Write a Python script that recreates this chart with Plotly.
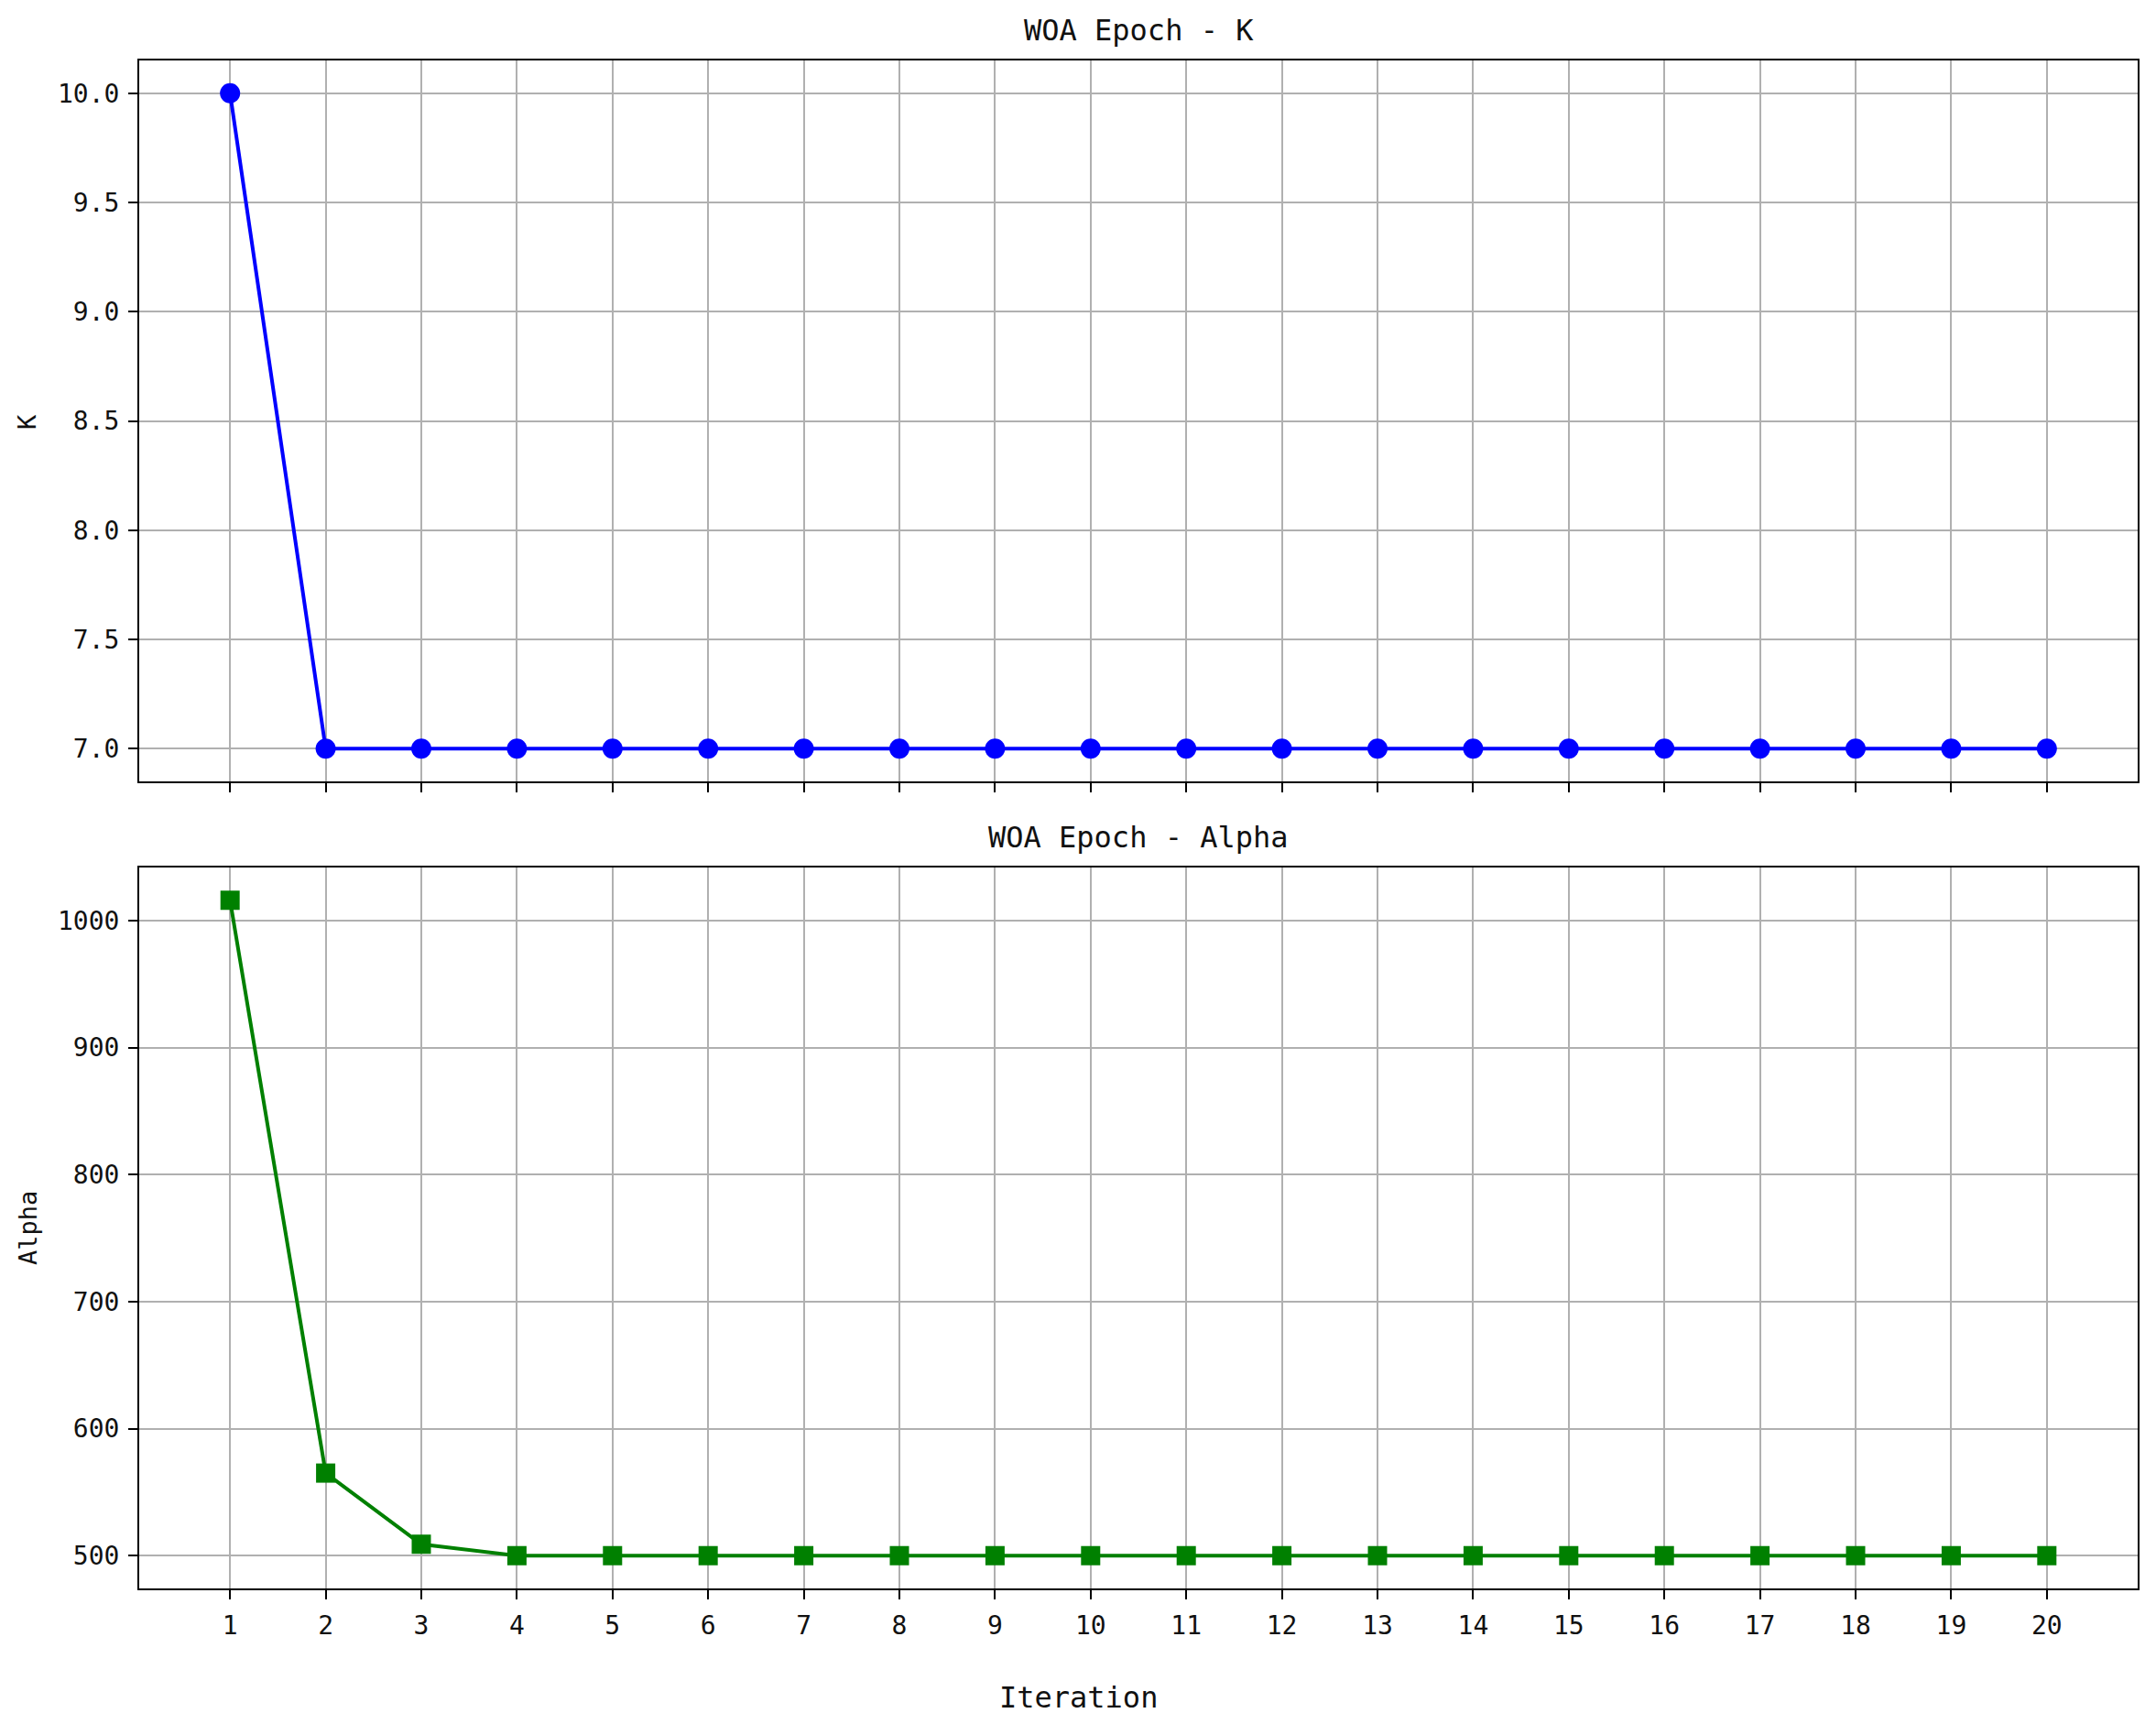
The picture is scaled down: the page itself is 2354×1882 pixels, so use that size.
import plotly.graph_objects as go

iterations = list(range(1, 21))
k_values = [10, 7, 7, 7, 7, 7, 7, 7, 7, 7, 7, 7, 7, 7, 7, 7, 7, 7, 7, 7]
alpha_values = [1016, 565, 509, 500, 500, 500, 500, 500, 500, 500,
                500, 500, 500, 500, 500, 500, 500, 500, 500, 500]
k_ticks = [7.0, 7.5, 8.0, 8.5, 9.0, 9.5, 10.0]
k_ticktext = ["7.0", "7.5", "8.0", "8.5", "9.0", "9.5", "10.0"]
alpha_ticks = [500, 600, 700, 800, 900, 1000]

W, H = 2354, 1882
OFF = 8  # page body margin
L, R, T, B = 152, 2334, 66, 1734
top_bottom_px, bot_top_px = 853, 947
ph = B - T

def py(px):
    return (B - px) / ph

def pxx(px):
    return (px - L) / (R - L)

FONT = "DejaVu Sans Mono"

fig = go.Figure()
fig.add_trace(go.Scatter(x=iterations, y=k_values, mode="lines+markers",
                         line=dict(color="#0000ff", width=4),
                         marker=dict(symbol="circle", size=22, color="#0000ff"),
                         xaxis="x", yaxis="y", showlegend=False))
fig.add_trace(go.Scatter(x=iterations, y=alpha_values, mode="lines+markers",
                         line=dict(color="#008000", width=4),
                         marker=dict(symbol="square", size=21, color="#008000"),
                         xaxis="x2", yaxis="y2", showlegend=False))

def lo_hi(vals, m=0.05):
    a, b = min(vals), max(vals)
    d = (b - a) * m
    return [a - d, b + d]

common_axis = dict(showline=True, linecolor="black", linewidth=2, mirror=True,
                   showgrid=True, gridcolor="#b0b0b0", gridwidth=2,
                   ticks="outside", ticklen=10, tickwidth=2, tickcolor="black",
                   ticklabelstandoff=4,
                   zeroline=False, tickfont=dict(family=FONT, size=28, color="#111"))

xr = lo_hi(iterations)
fig.update_layout(
    width=W, height=H,
    margin=dict(l=L - OFF, r=W - R + OFF, t=T - OFF, b=H - B + OFF),
    plot_bgcolor="white", paper_bgcolor="white",
    font=dict(family=FONT, color="#111"),
    xaxis=dict(domain=[0, 1], anchor="y", range=xr, tickvals=iterations,
               showticklabels=False, **common_axis),
    yaxis=dict(domain=[py(top_bottom_px), 1], anchor="x", range=lo_hi(k_values),
               tickvals=k_ticks, ticktext=k_ticktext, **common_axis),
    xaxis2=dict(domain=[0, 1], anchor="y2", range=xr, tickvals=iterations,
                **common_axis),
    yaxis2=dict(domain=[0, py(bot_top_px)], anchor="x2", range=lo_hi(alpha_values),
                tickvals=alpha_ticks, **common_axis),
)

ann = [
    dict(text="WOA Epoch - K", x=0.5, y=py(33), size=32),
    dict(text="WOA Epoch - Alpha", x=0.5, y=py(914), size=32),
    dict(text="Iteration", x=pxx(1177), y=py(1853), size=32),
]
for a in ann:
    fig.add_annotation(text=a["text"], x=a["x"], y=a["y"], xref="paper", yref="paper",
                       xanchor="center", yanchor="middle", showarrow=False,
                       font=dict(family=FONT, size=a["size"], color="#111"))
for text, yc in [("K", 461), ("Alpha", 1341)]:
    fig.add_annotation(text=text, x=pxx(30), y=py(yc), xref="paper", yref="paper",
                       xanchor="center", yanchor="middle", showarrow=False, textangle=-90,
                       font=dict(family=FONT, size=27, color="#111"))

fig.write_html("out.html")
